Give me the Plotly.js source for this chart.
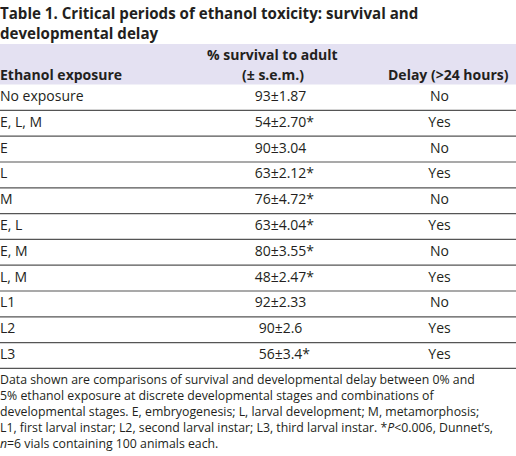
<!DOCTYPE html>
<html>
<head>
<meta charset="utf-8">
<script src="https://cdn.plot.ly/plotly-3.0.1.min.js"></script>
<style>
  html, body { margin: 0; padding: 0; background: #fff; overflow: hidden; }
  #plot { width: 516px; height: 456px; }
</style>
</head>
<body>
<div id="plot"></div>
<script>
const exposures = ['No exposure', 'E, L, M', 'E', 'L', 'M', 'E, L', 'E, M', 'L, M', 'L1', 'L2', 'L3'];
const survival  = [93, 54, 90, 63, 76, 63, 80, 48, 92, 90, 56];
const semLabels = ['1.87', '2.70', '3.04', '2.12', '4.72', '4.04', '3.55', '2.47', '2.33', '2.6', '3.4'];
const significant = [false, true, false, true, true, true, true, true, false, false, true];
const delay = ['No', 'Yes', 'No', 'Yes', 'No', 'Yes', 'No', 'Yes', 'No', 'Yes', 'Yes'];
const headerCol1 = 'Ethanol exposure';
const headerCol2 = ['% survival to adult', '(± s.e.m.)'];
const headerCol3 = 'Delay (>24 hours)';
const titleText = 'Table 1. Critical periods of ethanol toxicity: survival and<br>developmental delay';
const footText = 'Data shown are comparisons of survival and developmental delay between 0% and<br>' +
  '5% ethanol exposure at discrete developmental stages and combinations of<br>' +
  'developmental stages. E, embryogenesis; L, larval development; M, metamorphosis;<br>' +
  'L1, first larval instar; L2, second larval instar; L3, third larval instar. *<i>P</i>&lt;0.006, Dunnet’s,<br>' +
  '<i>n</i>=6 vials containing 100 animals each.';

// ---- layout geometry (page pixels) ----
const W = 516, H = 456;
const headerTop = 44, headerBottom = 84.6, rowH = 25.8;
const col1X = 0, col2X = 280.5, col3X = 439.5;
const ink = '#231f20';
const ruleColor = '#555555';
const bandColor = '#e4e1f2';
const px = p => p / W;
const py = q => 1 - q / H;
// row-index coordinate of a page y (rows are categories 0..n-1)
const rowAt = q => (q - headerBottom) / rowH - 0.5;

const hiddenStar = '<span style="color:rgba(0,0,0,0)">*</span>';
const survText = survival.map((v, i) =>
  significant[i] ? hiddenStar + v + '±' + semLabels[i] + '*' : v + '±' + semLabels[i]);

const bodyFont = { family: 'Open Sans', size: 14, color: ink };

const traces = [
  {
    type: 'scatter', mode: 'text', x: exposures.map(() => col1X), y: exposures,
    text: exposures, textposition: 'middle right', textfont: bodyFont, hoverinfo: 'skip'
  },
  {
    type: 'scatter', mode: 'text', x: exposures.map(() => col2X), y: exposures,
    text: survText, textposition: 'middle center', textfont: bodyFont, hoverinfo: 'skip'
  },
  {
    type: 'scatter', mode: 'text', x: exposures.map(() => col3X), y: exposures,
    text: delay, textposition: 'middle center', textfont: bodyFont, hoverinfo: 'skip'
  }
];

const shapes = [{
  type: 'rect', xref: 'paper', yref: 'y', layer: 'below',
  x0: 0, x1: 1, y0: rowAt(headerTop), y1: rowAt(headerBottom),
  fillcolor: bandColor, line: { width: 0 }
}].concat(exposures.map((_, i) => ({
  type: 'line', xref: 'paper', yref: 'y',
  x0: 0, x1: 1, y0: i + 0.5, y1: i + 0.5,
  line: { color: ruleColor, width: 1.2 }
})));

const headFont = { family: 'Open Sans', size: 14, color: ink, weight: 'bold' };
const ann = (text, x, y, xanchor, font) => ({
  text, xref: 'paper', yref: 'paper', x: px(x), y: py(y), xanchor, yanchor: 'middle',
  showarrow: false, borderpad: 0, font
});

const layout = {
  width: W, height: H,
  margin: { l: 0, r: 0, t: 0, b: 0 },
  paper_bgcolor: '#ffffff', plot_bgcolor: 'rgba(0,0,0,0)',
  showlegend: false,
  xaxis: { range: [0, W], visible: false, fixedrange: true },
  yaxis: {
    type: 'category', categoryorder: 'array', categoryarray: exposures,
    range: [rowAt(H), rowAt(0)], visible: false, fixedrange: true
  },
  shapes: shapes,
  annotations: [
    ann(headerCol1, -1, 74.5, 'left', headFont),
    ann(headerCol2[0], 272.5, 54.5, 'center', headFont),
    ann(headerCol2[1], 273, 74.5, 'center', headFont),
    ann(headerCol3, 448.5, 74.5, 'center', headFont),
    {
      text: titleText, xref: 'paper', yref: 'paper',
      x: px(-1), y: py(2), xanchor: 'left', yanchor: 'top',
      align: 'left', showarrow: false, borderpad: 0,
      font: { family: 'Open Sans', size: 15.1, color: ink, weight: 'bold' }
    },
    {
      text: footText, xref: 'paper', yref: 'paper',
      x: px(-1), y: py(370), xanchor: 'left', yanchor: 'top',
      align: 'left', showarrow: false, borderpad: 0,
      font: { family: 'Open Sans', size: 12.3, color: ink }
    }
  ]
};

Plotly.newPlot('plot', traces, layout, { staticPlot: true, displayModeBar: false });
</script>
</body>
</html>
